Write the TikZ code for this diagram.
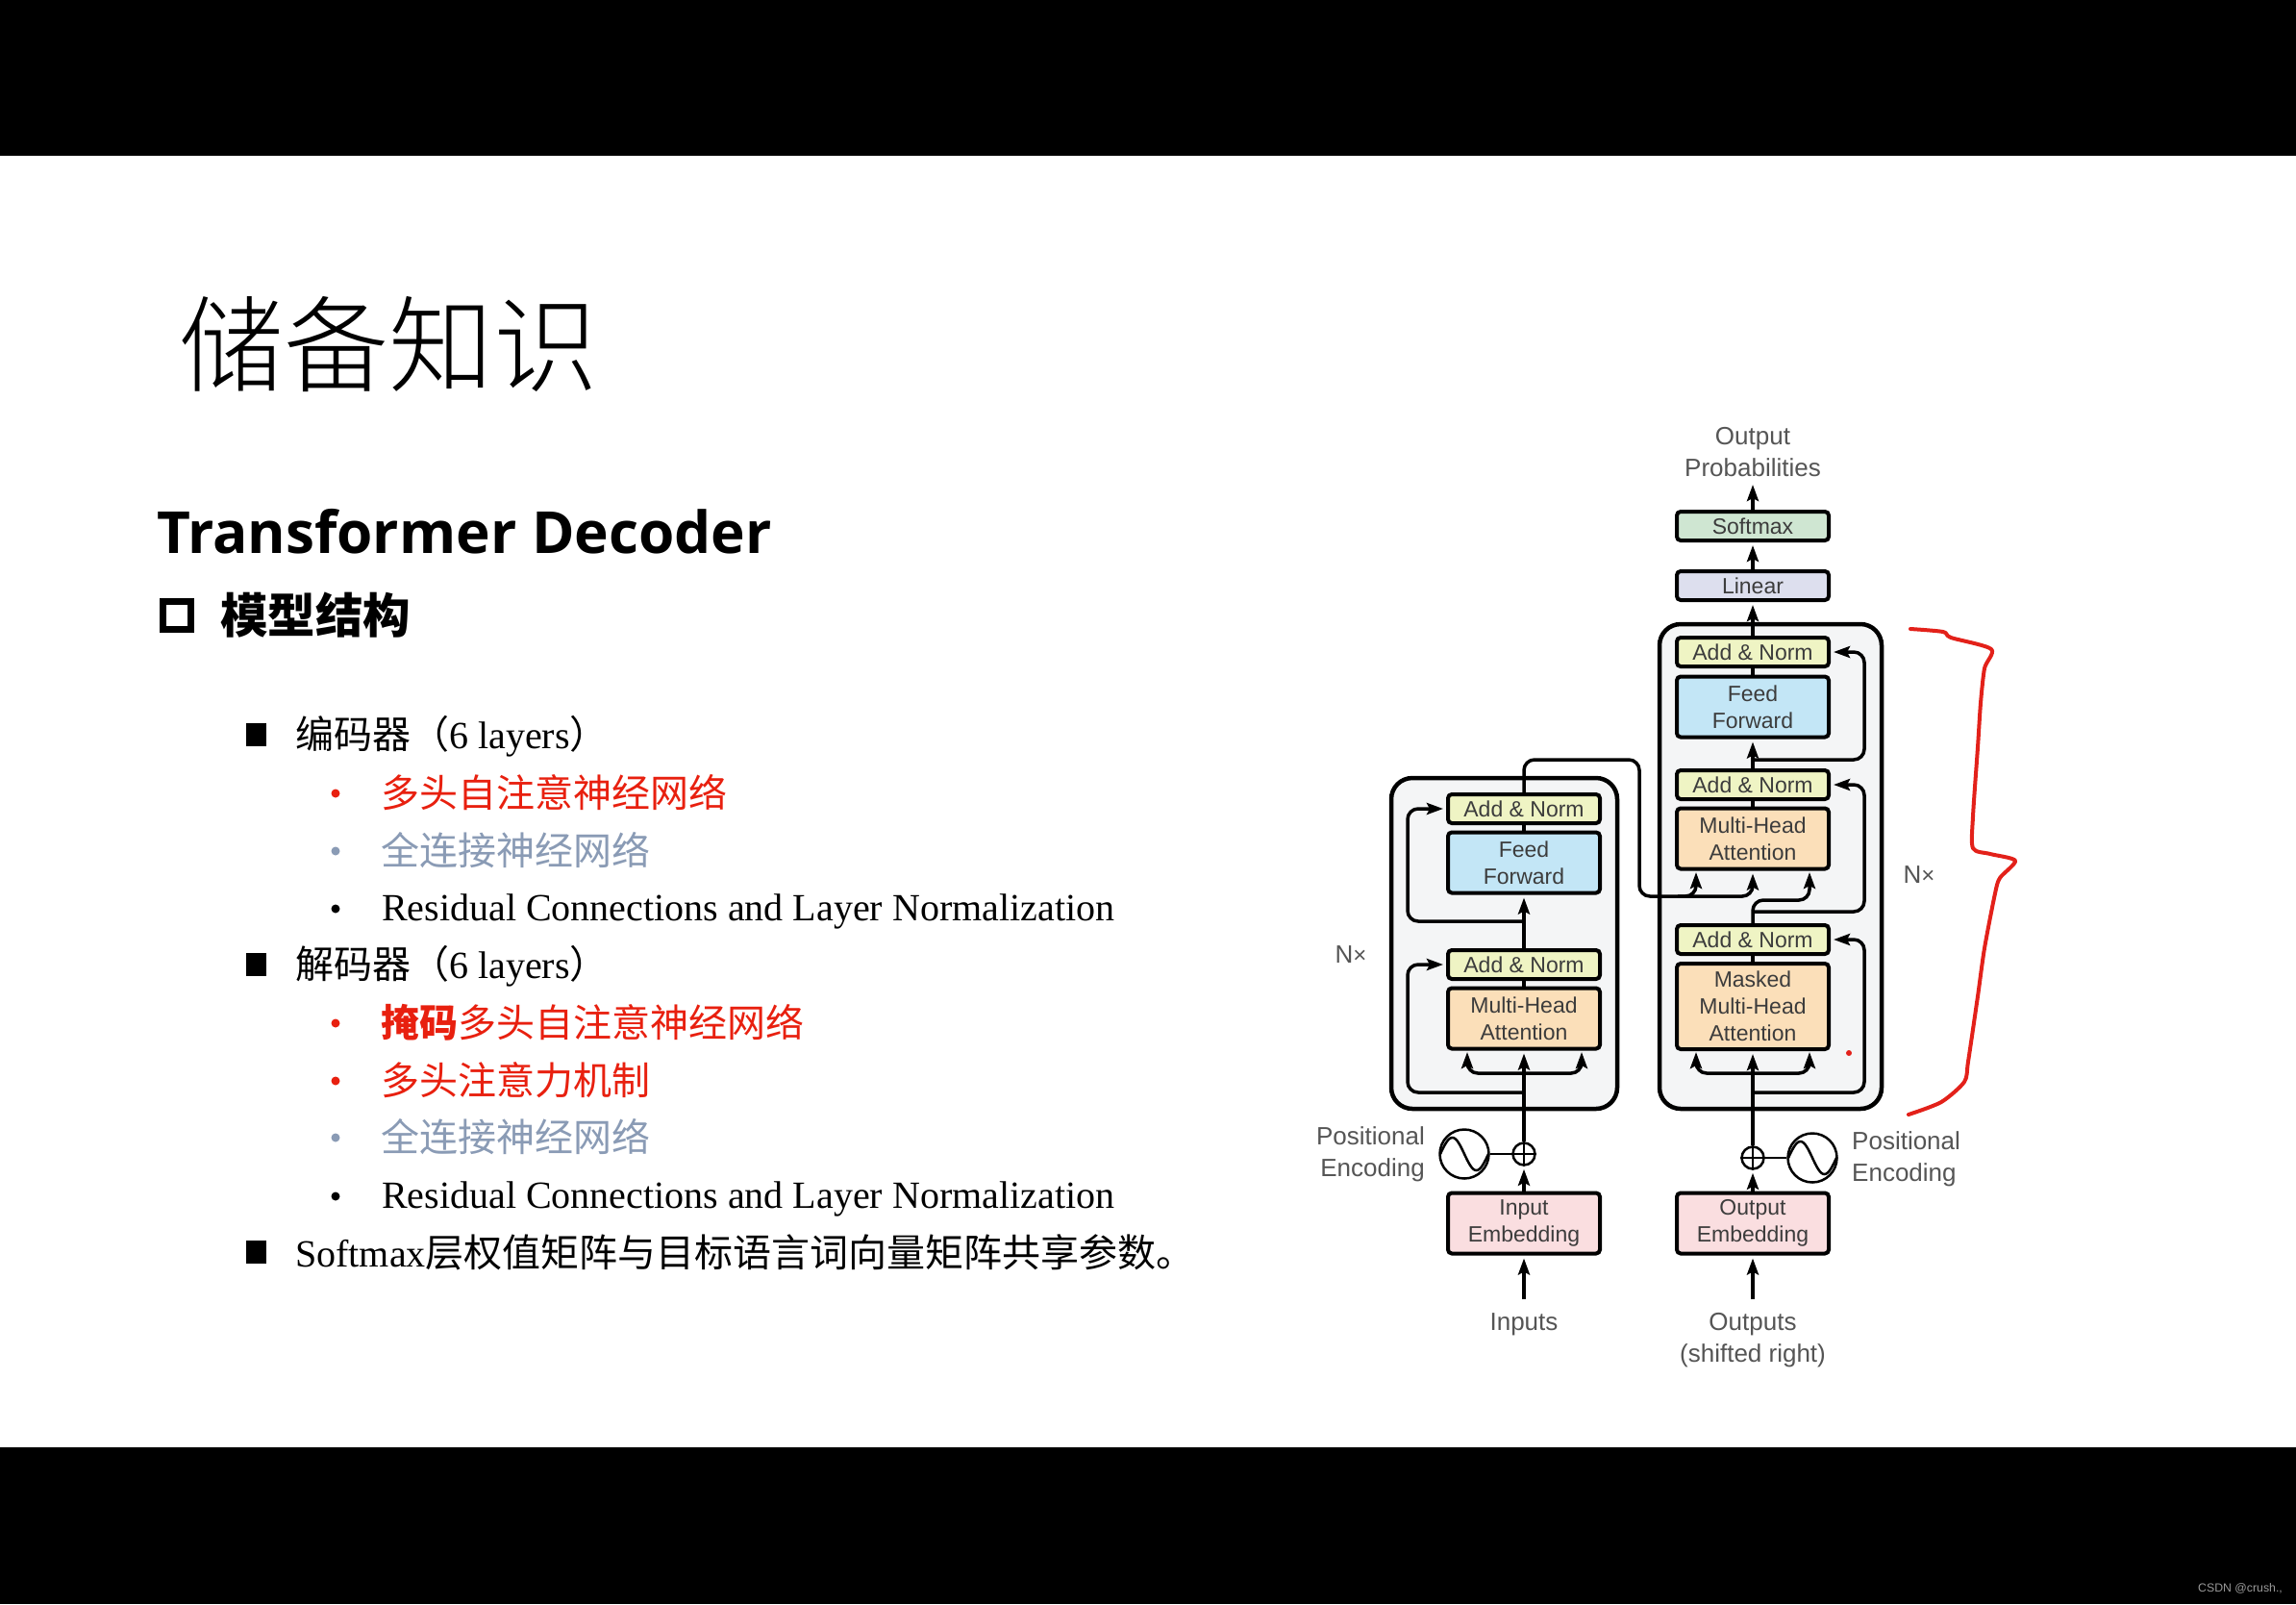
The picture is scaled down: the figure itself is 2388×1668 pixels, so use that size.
\documentclass[tikz,border=0pt]{standalone}
\usepackage{fontspec}
\usetikzlibrary{arrows.meta,calc}
\setmainfont{Liberation Serif}
\newfontfamily\cjk{Noto Sans CJK SC}
\newfontfamily\cjkl{Noto Sans CJK SC Light}
\newfontfamily\hd{Open Sans}
\newfontfamily\hv{Liberation Sans}
\definecolor{slidered}{HTML}{E8200F}
\definecolor{slidegray}{HTML}{8A9BB5}
\definecolor{boxtext}{HTML}{3C3C3C}
\definecolor{labeltext}{HTML}{555555}
\definecolor{cnorm}{HTML}{EFF4C4}
\definecolor{cff}{HTML}{C3E6F6}
\definecolor{cmha}{HTML}{FBDFB9}
\definecolor{csoft}{HTML}{CFE6D2}
\definecolor{clin}{HTML}{DDDFEE}
\definecolor{cemb}{HTML}{FADEE0}
\definecolor{cstack}{HTML}{F4F5F6}
\definecolor{pen}{HTML}{E3211A}
\newcommand{\fs}[1]{\fontsize{#1}{#1}\selectfont}
\tikzset{
 x=1pt,y=-1pt,
 txt/.style={anchor=west,inner sep=0pt,text height=0.8em,text depth=0.2em},
 bigsq/.style={fill=black,minimum width=21pt,minimum height=24pt,inner sep=0pt},
 dotb/.style={circle,fill=#1,minimum size=9pt,inner sep=0pt},
 line1/.style={txt,font=\fs{40}},
 stackbox/.style={draw=black,line width=4.5pt,fill=cstack,rounded corners=22pt},
 blk/.style={draw=black,line width=4pt,rounded corners=4pt,inner sep=0pt,minimum width=158pt,align=center,text=boxtext,font=\hv\fontsize{23}{28}\selectfont},
 one/.style={blk,minimum height=30pt},
 two/.style={blk,minimum height=63pt},
 three/.style={blk,minimum height=89pt},
 conn/.style={line width=3.5pt,draw=black,rounded corners=11pt},
 arr/.style={conn,-{Stealth[length=17pt,width=12pt,inset=3pt]},shorten >=3pt},
 lab/.style={inner sep=0pt,align=center,text=labeltext,font=\hv\fontsize{26}{33}\selectfont},
 addc/.style={circle,draw=black,line width=2.5pt,minimum size=23pt,inner sep=0pt},
 sinc/.style={circle,draw=black,line width=2.5pt,minimum size=51pt,inner sep=0pt},
 thinl/.style={line width=2.5pt,draw=black},
 redpen/.style={draw=pen,line width=4pt,line join=round,line cap=round}
}
\begin{document}
\begin{tikzpicture}
\path[use as bounding box] (0,0) rectangle (2388,1668);
\fill[white] (0,0) rectangle (2388,1668);
\fill[black] (0,0) rectangle (2388,162);
\fill[black] (0,1505) rectangle (2388,1668);
\node[inner sep=0pt,text=gray!80!white,font=\hv\fs{12.3},anchor=west] (foot) at (2286,1652) {CSDN @crush.,};
% left text
\node[txt,font=\cjkl\fs{109}] (title) at (186,396) {储备知识};
\node[txt,font=\hd\bfseries\fs{60.3}] (head) at (163,572) {Transformer Decoder};
\node[draw=black,line width=7pt,minimum size=29pt,inner sep=0pt] (hsq) at (184,640) {};
\node[txt,font=\cjk\bfseries\fs{49.5}] (sub) at (229,655) {模型结构};
\node[bigsq] (b1) at (266,764) {};
\node[line1] (t1) at (307,775) {{\cjk 编码器（}6 layers{\cjk ）}};
\node[dotb=slidered] (d2) at (349,825) {};
\node[line1,text=slidered] (t2) at (396,836) {\cjk 多头自注意神经网络};
\node[dotb=slidegray] (d3) at (349,885) {};
\node[line1,text=slidegray] (t3) at (396,896) {\cjk 全连接神经网络};
\node[dotb=black] (d4) at (349,945) {};
\node[line1] (t4) at (397,954) {Residual Connections and Layer Normalization};
\node[bigsq] (b5) at (266,1003) {};
\node[line1] (t5) at (307,1014) {{\cjk 解码器（}6 layers{\cjk ）}};
\node[dotb=slidered] (d6) at (349,1064) {};
\node[line1,text=slidered] (t6) at (396,1075) {{\cjk\bfseries 掩码}{\cjk 多头自注意神经网络}};
\node[dotb=slidered] (d7) at (349,1124) {};
\node[line1,text=slidered] (t7) at (396,1135) {\cjk 多头注意力机制};
\node[dotb=slidegray] (d8) at (349,1183) {};
\node[line1,text=slidegray] (t8) at (396,1194) {\cjk 全连接神经网络};
\node[dotb=black] (d9) at (349,1244) {};
\node[line1] (t9) at (397,1253) {Residual Connections and Layer Normalization};
\node[bigsq] (b10) at (266,1302) {};
\node[line1] (t10) at (307,1314) {Softmax{\cjk 层权值矩阵与目标语言词向量矩阵共享参数。}};
% stacks
\draw[stackbox] (1447,809) rectangle (1682,1153);
\draw[stackbox] (1726,649) rectangle (1957,1153);
% encoder nodes
\node[one,fill=cnorm] (ean2) at (1585,841) {Add \& Norm};
\node[two,fill=cff] (eff) at (1585,897) {Feed\\Forward};
\node[one,fill=cnorm] (ean1) at (1585,1003) {Add \& Norm};
\node[two,fill=cmha] (emha) at (1585,1059) {Multi-Head\\Attention};
\node[two,fill=cemb] (eemb) at (1585,1272) {Input\\Embedding};
\node[addc] (eadd) at (1585,1200) {};
\node[sinc] (esin) at (1523,1200) {};
% decoder nodes
\node[one,fill=csoft] (soft) at (1823,547) {Softmax};
\node[one,fill=clin] (lin) at (1823,609) {Linear};
\node[one,fill=cnorm] (dan3) at (1823,678) {Add \& Norm};
\node[two,fill=cff] (dff) at (1823,735) {Feed\\Forward};
\node[one,fill=cnorm] (dan2) at (1823,816) {Add \& Norm};
\node[two,fill=cmha] (dmha) at (1823,872) {Multi-Head\\Attention};
\node[one,fill=cnorm] (dan1) at (1823,977) {Add \& Norm};
\node[three,fill=cmha] (dmask) at (1823,1046.5) {Masked\\Multi-Head\\Attention};
\node[two,fill=cemb] (demb) at (1823,1272) {Output\\Embedding};
\node[addc] (dadd) at (1823,1204) {};
\node[sinc] (dsin) at (1885,1204) {};
% labels
\node[lab] (outp) at (1823,470) {Output\\Probabilities};
\node[lab] (inp) at (1585,1377) {Inputs};
\node[lab] (outs) at (1823,1394) {Outputs\\(shifted right)};
\node[lab,anchor=east,align=right] (epos) at (1482,1200) {Positional\\Encoding};
\node[lab,anchor=west,align=left] (dpos) at (1926,1205) {Positional\\Encoding};
\node[lab] (nxe) at (1405,993) {N{\fs{24}×}};
\node[lab] (nxd) at (1996,910) {N{\fs{24}×}};
% free ends
\coordinate (inpT) at (1585,1351);
\coordinate (outT) at (1823,1351);
\coordinate (probB) at (1823,501);
% encoder connectors
\draw[arr] (inpT) -- (eemb.south);
\draw[arr] (eemb.north) -- (eadd.south);
\draw[arr] (eadd.north) -- (emha.south);
\draw[thinl] (esin.east) -- (eadd.west);
\draw[thinl] (eadd.north) -- (eadd.south) (eadd.west) -- (eadd.east);
\draw[arr] (1585,1116) -| (1526,1091);
\draw[arr] (1585,1116) -| (1645,1091);
\draw[arr] (1585,1136) -- (1464,1136) -- (1464,1003) -- (ean1.west);
\draw[arr] (ean1.north) -- (eff.south);
\draw[conn] (eff.north) -- (ean2.south);
\draw[conn] (emha.north) -- (ean1.south);
\draw[arr] (1585,958) -- (1464,958) -- (1464,841) -- (ean2.west);
% encoder to decoder
\draw[arr] (ean2.north) -- (1585,790) -- (1705,790) -- (1705,932) -- (1823,932) -- (dmha.south);
\draw[arr] (1745,932) -- (1764,932) -- (1764,904);
% decoder connectors
\draw[arr] (outT) -- (demb.south);
\draw[arr] (demb.north) -- (dadd.south);
\draw[arr] (dadd.north) -- (dmask.south);
\draw[thinl] (dsin.west) -- (dadd.east);
\draw[thinl] (dadd.north) -- (dadd.south) (dadd.west) -- (dadd.east);
\draw[arr] (1823,1116) -| (1764,1091);
\draw[arr] (1823,1116) -| (1882,1091);
\draw[arr] (1823,1136) -- (1939,1136) -- (1939,977) -- (dan1.east);
\draw[conn] (dmask.north) -- (dan1.south);
\draw[arr] (dan1.north) -- (1823,936) -- (1882,936) -- (1882,904);
\draw[arr] (1823,948) -- (1939,948) -- (1939,816) -- (dan2.east);
\draw[conn] (dmha.north) -- (dan2.south);
\draw[arr] (dan2.north) -- (dff.south);
\draw[arr] (1823,790) -- (1939,790) -- (1939,678) -- (dan3.east);
\draw[conn] (dff.north) -- (dan3.south);
\draw[arr] (dan3.north) -- (lin.south);
\draw[arr] (lin.north) -- (soft.south);
\draw[arr] (soft.north) -- (probB);
% sine waves
\begin{scope}[shift={(esin.center)}]
\draw[thinl] plot[domain=-25:25,samples=41,smooth] (\x,{-17*sin(7.2*(\x+25))});
\end{scope}
\begin{scope}[shift={(dsin.center)}]
\draw[thinl] plot[domain=-25:25,samples=41,smooth] (\x,{-17*sin(7.2*(\x+25))});
\end{scope}
% red annotation
\draw[redpen] plot[smooth,tension=0.45] coordinates {(1987,654) (2021,657) (2029,663) (2071,675) (2064,695) (2060,731) (2057,777) (2052,849) (2052,882) (2070,888) (2096,895) (2080,913) (2075,929) (2064,986) (2057,1036) (2047,1104) (2043,1125) (2019,1146) (1985,1159)};
\fill[pen] (1923,1095) circle (3pt);
\end{tikzpicture}
\end{document}
